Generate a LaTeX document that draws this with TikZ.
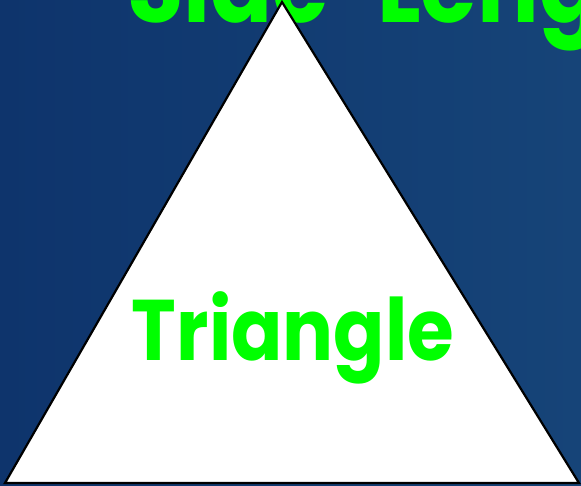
\documentclass[tikz,border=0pt]{standalone}
\usepackage{fontspec}
\setmainfont{Poppins}
\definecolor{bgleft}{RGB}{14,52,108}
\definecolor{bgright}{RGB}{22,68,120}
\definecolor{lgreen}{RGB}{0,255,0}
\tikzset{
  title/.style={text=lgreen, font=\fontsize{86}{86}\selectfont\bfseries, inner sep=0pt, anchor=base west, xscale=0.88},
  heading/.style={title, font=\fontsize{104}{104}\selectfont\bfseries},
  tri/.style={fill=white, draw=black, line width=2.2pt, line join=miter},
}
\begin{document}
\begin{tikzpicture}[x=1pt,y=-1pt]
\useasboundingbox (0,0) rectangle (581,486);
\shade[left color=bgleft, right color=bgright] (0,0) rectangle (581,486);
\node[heading] (head) at (127,23) {Side\hspace{55pt}Length};
\coordinate (A) at (282,2);
\coordinate (B) at (5,483);
\coordinate (C) at (579,483);
\draw[tri] (A) -- (B) -- (C) -- cycle;
\node[title, anchor=base] (lbl) at (293,360) {Triangle};
\end{tikzpicture}
\end{document}
